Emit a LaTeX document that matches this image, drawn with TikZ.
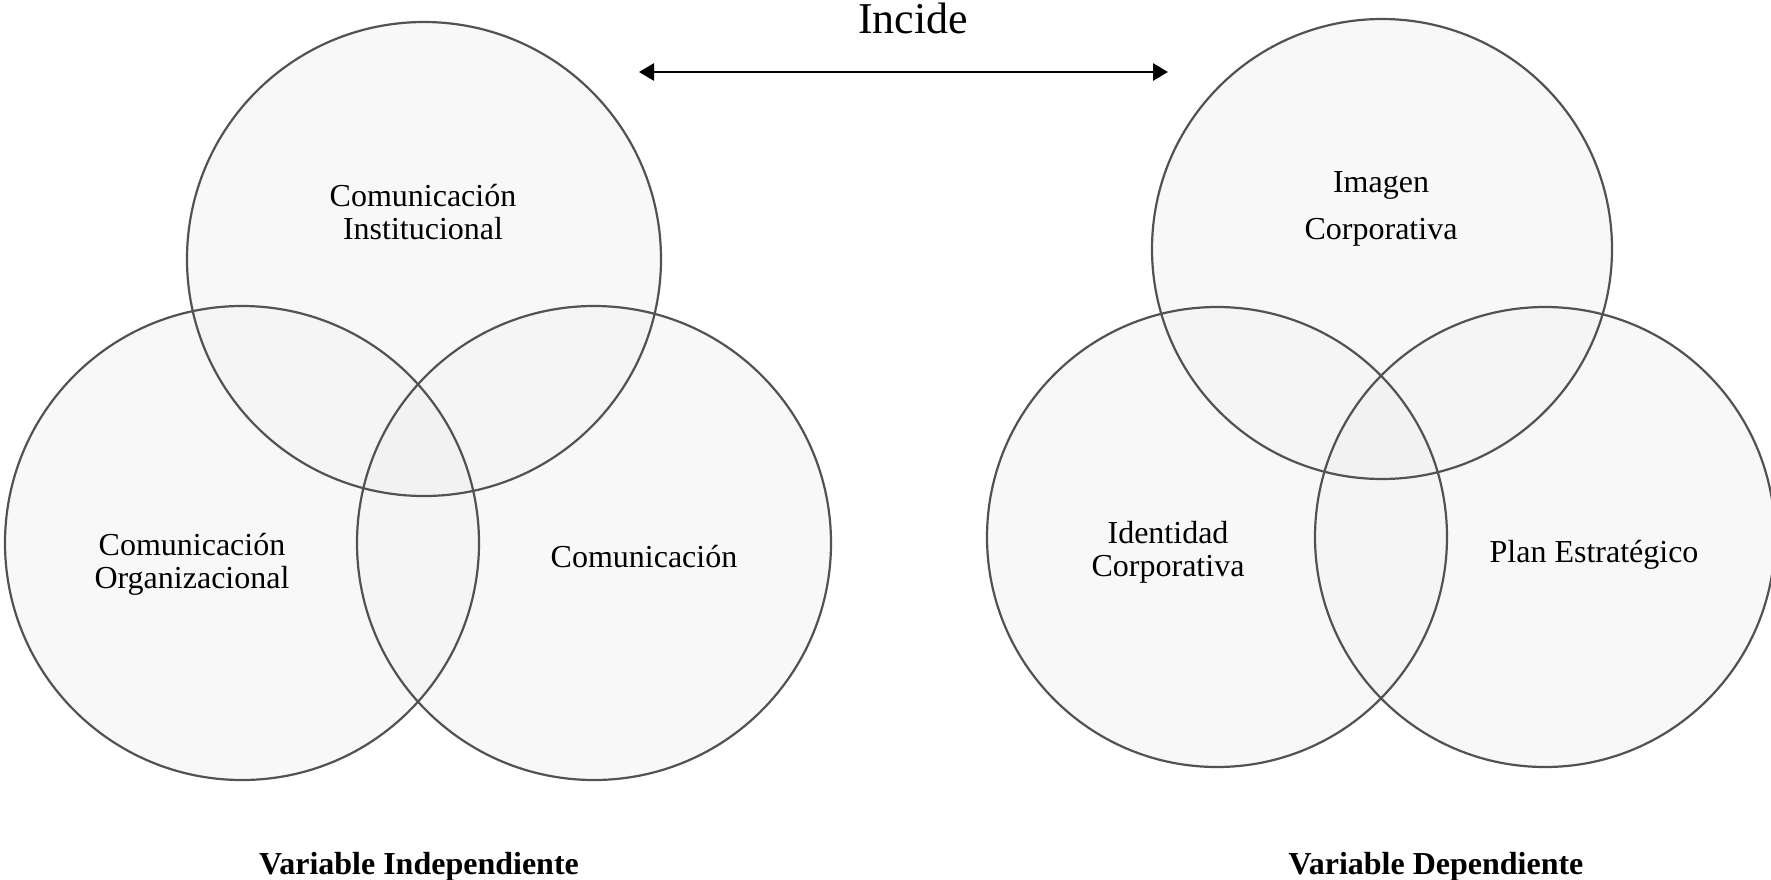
\documentclass[tikz,border=0pt]{standalone}
\usepackage{fontspec}
\setmainfont{Liberation Serif}
\usetikzlibrary{arrows.meta}

\begin{document}
\begin{tikzpicture}[x=0.5pt,y=-0.5pt,
   circulo/.style={circle,fill=black!6,fill opacity=0.45,inner sep=0pt,minimum size=#1},
   borde/.style={draw=black!68,line width=1.1pt},
   etiqueta/.style={align=center,inner sep=0pt,font=\fontsize{16}{16.5}\selectfont},
   titulo/.style={inner sep=0pt,anchor=base,font=\fontsize{16}{18}\selectfont\bfseries}]
\useasboundingbox (0,0) rectangle (1771,879);
% variable independiente
\foreach \n/\x/\y in {inst/424/259,org/242/543,com/594/543} {
   \node[circulo=237pt] (\n) at (\x,\y) {};
}
% variable dependiente
\foreach \n/\x/\y in {img/1382/249,ident/1217/537,plan/1545/537} {
   \node[circulo=230pt] (\n) at (\x,\y) {};
}
% bordes encima de los rellenos
\foreach \n/\r in {inst/118.5pt,org/118.5pt,com/118.5pt,img/115pt,ident/115pt,plan/115pt} {
   \draw[borde] (\n) circle[radius=\r];
}
\node[etiqueta] (tinst) at (423,212) {Comunicación\\Institucional};
\node[etiqueta] (torg) at (192,564) {Comunicación\\Organizacional};
\node[etiqueta,anchor=base] (tcom) at (644,567) {Comunicación};
\node[etiqueta] (timg) at (1381,209) {Imagen\\[7pt]Corporativa};
\node[etiqueta] (tident) at (1168,552) {Identidad\\Corporativa};
\node[etiqueta,anchor=base] (tplan) at (1594,562) {Plan Estratégico};
\node[titulo] (vi) at (419,874) {Variable Independiente};
\node[titulo] (vd) at (1436,874) {Variable Dependiente};
% relacion
\node[inner sep=0pt,anchor=base,font=\fontsize{22}{24}\selectfont] (incide) at (913,33) {Incide};
\coordinate (izq) at (639,72);
\coordinate (der) at (1168,72);
\draw[line width=1.4pt,{Triangle[length=7.5pt,width=8.5pt]}-{Triangle[length=7.5pt,width=8.5pt]}] (izq) -- (der);
\end{tikzpicture}
\end{document}
